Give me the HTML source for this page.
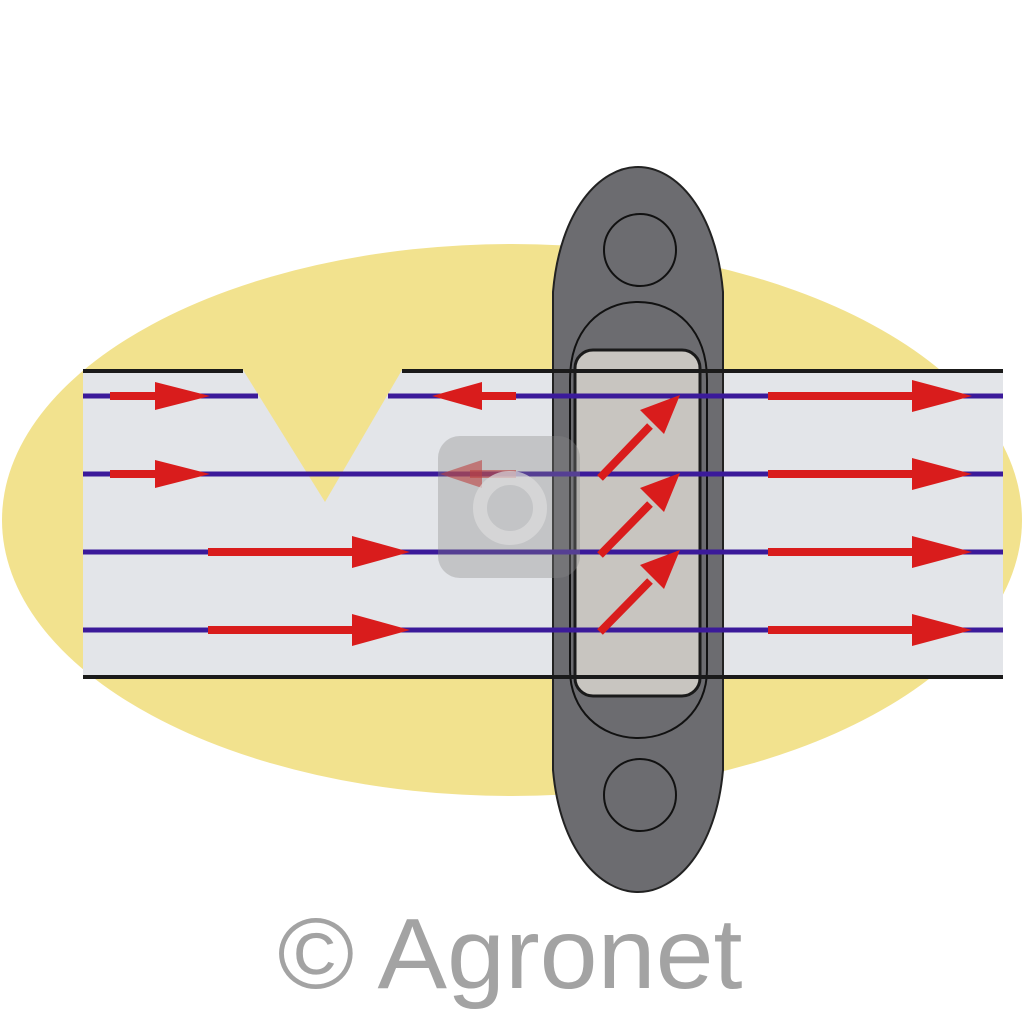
<!DOCTYPE html>
<html><head><style>html,body{margin:0;padding:0;background:#fff}svg{display:block}</style></head>
<body>
<svg width="1024" height="1024" viewBox="0 0 1024 1024" xmlns="http://www.w3.org/2000/svg">
<rect width="1024" height="1024" fill="#fff"/>
<ellipse cx="512" cy="520" rx="510" ry="276" fill="#f2e28e"/>
<polygon points="83,370 243,370 325,502 402,370 1003,370 1003,677 83,677" fill="#e3e5e9"/>
<path d="M553,292 C560,210 600,167 638,167 C676,167 716,210 723,292 L723,770 C716,850 676,892 638,892 C600,892 560,850 553,770 Z" fill="#6c6c70" stroke="#222" stroke-width="2"/>
<circle cx="640" cy="250" r="36" fill="none" stroke="#111" stroke-width="2"/>
<circle cx="640" cy="795" r="36" fill="none" stroke="#111" stroke-width="2"/>
<path d="M570,380 C570,330 600,302 638,302 C676,302 707,330 707,380 L707,670 C707,710 676,738 638,738 C600,738 570,710 570,670 Z" fill="none" stroke="#111" stroke-width="2"/>
<rect x="575" y="350" width="125" height="346" rx="18" fill="#c8c5c0" stroke="#1a1a1a" stroke-width="3"/>
<line x1="83" y1="371" x2="243" y2="371" stroke="#1a1a1a" stroke-width="4"/>
<line x1="402" y1="371" x2="1003" y2="371" stroke="#1a1a1a" stroke-width="4"/>
<line x1="83" y1="677" x2="1003" y2="677" stroke="#1a1a1a" stroke-width="4"/>
<g stroke="#3b1a9a" stroke-width="5">
<line x1="83" y1="396" x2="258" y2="396"/>
<line x1="388" y1="396" x2="1003" y2="396"/>
<line x1="83" y1="474" x2="1003" y2="474"/>
<line x1="83" y1="552" x2="1003" y2="552"/>
<line x1="83" y1="630" x2="1003" y2="630"/>
</g>
<g fill="#d91c1c">
<rect x="110" y="392" width="60" height="8"/><polygon points="155,382 210,396 155,410"/>
<rect x="110" y="470" width="60" height="8"/><polygon points="155,460 210,474 155,488"/>
<rect x="208" y="548" width="150" height="8"/><polygon points="352,536 410,552 352,568"/>
<rect x="208" y="626" width="150" height="8"/><polygon points="352,614 410,630 352,646"/>
<rect x="768" y="392" width="150" height="8"/><polygon points="912,380 972,396 912,412"/>
<rect x="768" y="470" width="150" height="8"/><polygon points="912,458 972,474 912,490"/>
<rect x="768" y="548" width="150" height="8"/><polygon points="912,536 972,552 912,568"/>
<rect x="768" y="626" width="150" height="8"/><polygon points="912,614 972,630 912,646"/>
<rect x="470" y="392" width="46" height="8"/><polygon points="482,382 432,396 482,410"/>
<rect x="470" y="470" width="46" height="8" opacity="0.6"/><polygon points="482,460 440,474 482,488" opacity="0.6"/>
</g>
<g stroke="#d91c1c" stroke-width="8" fill="#d91c1c">
<line x1="600" y1="478" x2="650" y2="426"/><polygon points="640,410 680,395 664,434" stroke="none"/>
<line x1="600" y1="555" x2="650" y2="504"/><polygon points="640,488 680,473 664,512" stroke="none"/>
<line x1="600" y1="632" x2="650" y2="581"/><polygon points="640,565 680,550 664,589" stroke="none"/>
</g>
<rect x="438" y="436" width="142" height="142" rx="22" fill="#888" opacity="0.35"/>
<circle cx="510" cy="508" r="30" fill="none" stroke="#ddd" stroke-width="14" opacity="0.7"/>
<text x="510" y="988" text-anchor="middle" font-family="Liberation Sans, sans-serif" font-size="100" fill="#a3a3a3" textLength="465" lengthAdjust="spacingAndGlyphs">© Agronet</text>
</svg>
</body></html>
